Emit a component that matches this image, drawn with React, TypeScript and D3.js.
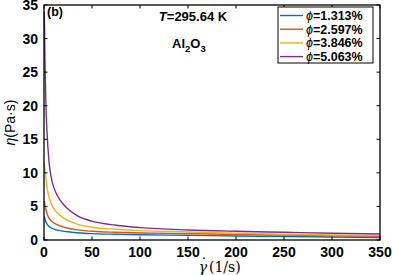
import React from 'react';
import * as d3 from 'd3';

const purpleRates = [0.3, 1, 2, 3, 5, 8, 12, 17, 25, 35, 50, 75, 100, 150, 200, 250, 300, 350];
const purpleEta = [34, 27, 20, 16.5, 12, 9, 7.2, 5.9, 4.6, 3.6, 2.8, 2.2, 1.85, 1.5, 1.3, 1.15, 1.0, 0.9];

const yellowRates = [0.3, 1, 2, 3, 4.5, 6.5, 10, 15, 20, 30, 50, 75, 100, 150, 200, 250, 300, 350];
const yellowEta = [11.5, 10.5, 9.2, 8.0, 6.8, 5.8, 4.7, 3.9, 3.3, 2.6, 1.9, 1.6, 1.4, 1.2, 1.0, 0.85, 0.75, 0.65];

const redRates = [0.3, 1, 2, 3, 5, 8, 12, 17, 25, 35, 50, 75, 100, 150, 200, 250, 300, 350];
const redEta = [5.8, 5.2, 4.6, 4.0, 3.3, 2.8, 2.4, 2.1, 1.75, 1.5, 1.3, 1.15, 1.05, 0.95, 0.82, 0.72, 0.63, 0.55];

const blueRates = [0.3, 1, 2, 3, 5, 8, 12, 17, 25, 35, 50, 75, 100, 150, 200, 250, 300, 350];
const blueEta = [3.5, 3.1, 2.7, 2.4, 2.05, 1.75, 1.55, 1.4, 1.22, 1.08, 0.95, 0.85, 0.78, 0.7, 0.6, 0.52, 0.45, 0.38];

const seriesLabels = ['=1.313%', '=2.597%', '=3.846%', '=5.063%'];
const seriesColors = ['#0072BD', '#D95319', '#EDB120', '#7E2F8E'];

const xTicks = [0, 50, 100, 150, 200, 250, 300, 350];
const yTicks = [0, 5, 10, 15, 20, 25, 30, 35];

const W = 393;
const H = 275;
const margin = { left: 44, right: 13, top: 5, bottom: 35 };

export default function App() {
  const x = d3.scaleLinear().domain([0, 350]).range([margin.left, W - margin.right]);
  const y = d3.scaleLinear().domain([0, 35]).range([H - margin.bottom, margin.top]);

  const series = [
    { rates: blueRates, eta: blueEta },
    { rates: redRates, eta: redEta },
    { rates: yellowRates, eta: yellowEta },
    { rates: purpleRates, eta: purpleEta },
  ];

  const line = d3
    .line<[number, number]>()
    .x((d) => x(d[0]))
    .y((d) => y(d[1]))
    .curve(d3.curveMonotoneX);

  const x0 = x(0);
  const x1 = x(350);
  const y0 = y(0);
  const y1 = y(35);
  const font = '"Liberation Sans", Arial, sans-serif';

  // legend
  const lgX = 278;
  const lgY = 7;
  const lgW = 95;
  const lgH = 56;

  return (
    <svg
      width={W}
      height={H}
      style={{ position: 'absolute', left: 0, top: 0, background: '#fff' }}
      fontFamily={font}
    >
      {series.map((s, i) => (
        <path
          key={i}
          d={line(s.rates.map((r, j) => [r, s.eta[j]] as [number, number])) || ''}
          fill="none"
          stroke={seriesColors[i]}
          strokeWidth={1.4}
        />
      ))}

      {/* box */}
      <rect x={x0} y={y1} width={x1 - x0} height={y0 - y1} fill="none" stroke="#000" strokeWidth={1.3} />

      {xTicks.map((t) => (
        <g key={'x' + t}>
          <line x1={x(t)} x2={x(t)} y1={y0} y2={y0 - 3.5} stroke="#000" />
          <line x1={x(t)} x2={x(t)} y1={y1} y2={y1 + 3.5} stroke="#000" />
          <text x={x(t)} y={y0 + 17} textAnchor="middle" fontSize={14} fontWeight="bold">
            {t}
          </text>
        </g>
      ))}
      {yTicks.map((t) => (
        <g key={'y' + t}>
          <line x1={x0} x2={x0 + 3.5} y1={y(t)} y2={y(t)} stroke="#000" />
          <line x1={x1} x2={x1 - 3.5} y1={y(t)} y2={y(t)} stroke="#000" />
          <text x={x0 - 6} y={y(t) + 5} textAnchor="end" fontSize={14} fontWeight="bold">
            {t}
          </text>
        </g>
      ))}

      {/* axis labels */}
      <text
        transform={`translate(15,${(y0 + y1) / 2}) rotate(-90)`}
        textAnchor="middle"
        fontSize={14}
      >
        <tspan fontStyle="italic">η</tspan>(Pa·s)
      </text>
      <g fontFamily='"DejaVu Serif", "Liberation Serif", serif' fontSize={14}>
        <text x={203} y={272} textAnchor="middle" fontStyle="italic">γ</text>
        <text x={204} y={269} textAnchor="middle">˙</text>
        <text x={209} y={272}>(1/s)</text>
      </g>

      {/* annotations */}
      <text x={47} y={16} fontSize={12.5} fontWeight="bold">(b)</text>
      <text x={193} y={21} textAnchor="middle" fontSize={13} fontWeight="bold">
        <tspan fontStyle="italic">T</tspan>=295.64 K
      </text>
      <text x={172} y={48} fontSize={13} fontWeight="bold">
        Al<tspan fontSize={9.5} dy={4}>2</tspan>
        <tspan dy={-4}>O</tspan>
        <tspan fontSize={9.5} dy={4}>3</tspan>
      </text>

      {/* legend */}
      <rect x={lgX} y={lgY} width={lgW} height={lgH} fill="#fff" stroke="#000" strokeWidth={1} />
      {seriesLabels.map((lab, i) => {
        const cy = lgY + 8.5 + i * 13.7;
        return (
          <g key={lab}>
            <line x1={lgX + 2} x2={lgX + 25} y1={cy} y2={cy} stroke={seriesColors[i]} strokeWidth={1.4} />
            <text x={lgX + 28} y={cy + 4.5} fontSize={12.5} fontWeight="bold">
              <tspan fontStyle="italic" fontWeight="normal">ϕ</tspan>
              {lab}
            </text>
          </g>
        );
      })}
    </svg>
  );
}
